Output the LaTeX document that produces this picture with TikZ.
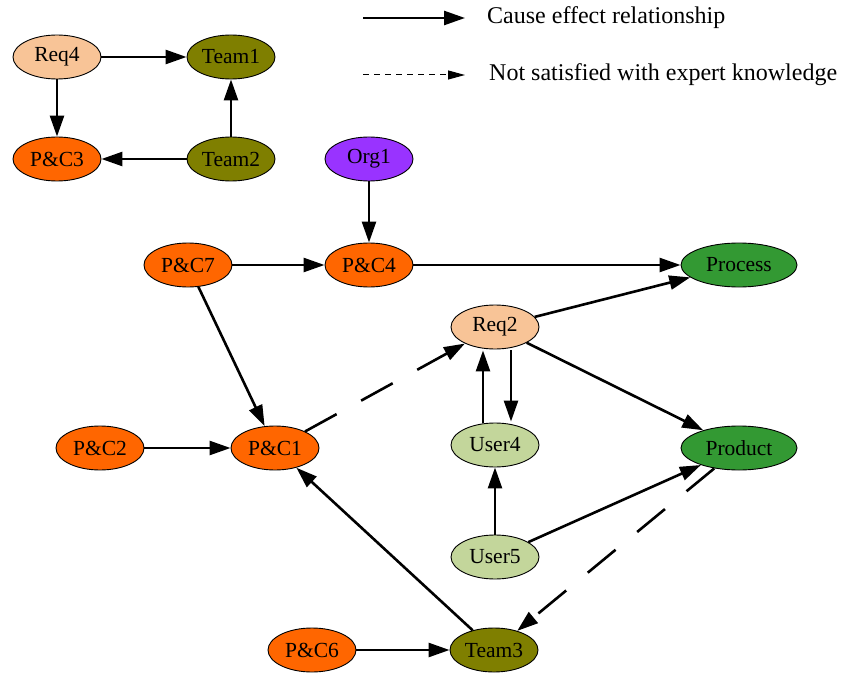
\documentclass[tikz,border=0pt]{standalone}
\usepackage{fontspec}
\setmainfont{Liberation Serif}
\usetikzlibrary{shapes.geometric,arrows.meta}
\definecolor{pc}{HTML}{FF6600}
\definecolor{req}{HTML}{F8C497}
\definecolor{team}{HTML}{7F7F00}
\definecolor{org}{HTML}{9933FF}
\definecolor{res}{HTML}{339933}
\definecolor{usr}{HTML}{C3D69B}
\tikzset{
  nd/.style={ellipse,draw=black,line width=0.9pt,minimum width=88pt,minimum height=44pt,inner sep=0pt,font=\fontsize{21.5}{25}\selectfont},
  wide/.style={nd,minimum width=116pt},
  ce/.style={line width=2.6pt,-{Triangle[length=21pt,width=14pt]}},
  ns/.style={line width=2.6pt,dash pattern=on 36pt off 28pt,-{Triangle[length=21pt,width=14pt]}},
  lgt/.style={anchor=west,font=\fontsize{24}{28}\selectfont,inner sep=0pt}
}
\begin{document}
\begin{tikzpicture}[x=1pt,y=-1pt]
\useasboundingbox (0,0) rectangle (845,676);
% legend
\coordinate (l1a) at (363,18);
\coordinate (l1b) at (465,18);
\coordinate (l2a) at (363,75);
\coordinate (l2b) at (465,75);
\draw[ce] (l1a) -- (l1b);
\draw[line width=1pt,dash pattern=on 6pt off 5pt,-{Triangle[length=17pt,width=9pt]}] (l2a) -- (l2b);
\node[lgt] (t1) at (487,18) {Cause effect relationship};
\node[lgt] (t2) at (489,75) {Not satisfied with expert knowledge};
% nodes
\node[nd,fill=req] (req4) at (57,57) {Req4};
\node[nd,fill=team] (team1) at (231,57) {Team1};
\node[nd,fill=pc] (pc3) at (57,159) {P\&C3};
\node[nd,fill=team] (team2) at (231,159) {Team2};
\node[nd,fill=org] (org1) at (369,159) {Org1};
\node[nd,fill=pc] (pc7) at (188,265) {P\&C7};
\node[nd,fill=pc] (pc4) at (369,265) {P\&C4};
\node[wide,fill=res] (process) at (739,265) {Process};
\node[nd,fill=req] (req2) at (495,327) {Req2};
\node[nd,fill=pc] (pc2) at (100,448) {P\&C2};
\node[nd,fill=pc] (pc1) at (275,448) {P\&C1};
\node[nd,fill=usr] (user4) at (495,445) {User4};
\node[wide,fill=res] (product) at (739,448) {Product};
\node[nd,fill=usr] (user5) at (495,557) {User5};
\node[nd,fill=pc] (pc6) at (312,650) {P\&C6};
\node[nd,fill=team] (team3) at (494,650) {Team3};
% edges
\draw[ce] (req4) -- (team1);
\draw[ce] (req4) -- (pc3);
\draw[ce] (team2) -- (team1);
\draw[ce] (team2) -- (pc3);
\draw[ce] (org1) -- (pc4);
\draw[ce] (pc7) -- (pc4);
\draw[ce] (pc4) -- (process);
\draw[ce] (pc7) -- (pc1);
\draw[ce] (pc2) -- (pc1);
\draw[ce] (team3) -- (pc1);
\draw[ns] (pc1) -- (req2);
\draw[ce] (req2) -- (process);
\draw[ce] (req2) -- (product);
\draw[ce] ([xshift=-12pt]user4.north) -- ([xshift=-12pt,yshift=-1pt]req2.south);
\draw[ce] ([xshift=16pt,yshift=-1pt]req2.south) -- ([xshift=16pt,yshift=1pt]user4.north);
\draw[ce] (user5) -- (user4);
\draw[ce] (user5) -- (product);
\draw[ns] (product) -- (team3);
\draw[ce] (pc6) -- (team3);
\end{tikzpicture}
\end{document}
